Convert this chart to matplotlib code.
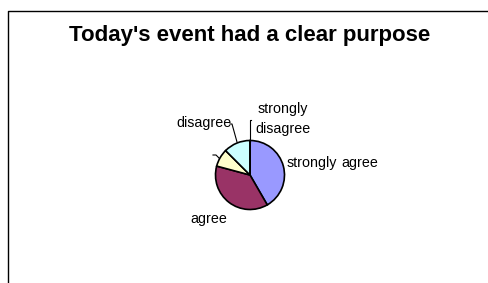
import matplotlib.pyplot as plt

# survey answers (counts)
categories = ["strongly agree", "agree", "", "disagree", "strongly\ndisagree"]
counts = [10, 9, 2, 3, 0]
colors = ["#9999FF", "#993366", "#FFFFCC", "#CCFFFF", "#660066"]

W, H = 488, 283
plt.rcParams["font.family"] = ["Liberation Sans", "DejaVu Sans"]

fig = plt.figure(figsize=(W / 100, H / 100), dpi=100)
ax = fig.add_axes([0, 0, 1, 1])
ax.set_xlim(0, W)
ax.set_ylim(0, H)
ax.set_aspect("equal")
ax.axis("off")

# chart area frame (only the left and top sides are visible)
ax.plot([8, 8, W + 5], [-5, H - 11, H - 11], color="black", lw=1.0)

ax.text(250, H - 35, "Today's event had a clear purpose", ha="center", va="center",
        fontsize=16, fontweight="bold")

cx, cy, r = 250, H - 175, 34.5
ax.pie(counts, colors=colors, startangle=90, counterclock=False,
       center=(cx, cy), radius=r, frame=True,
       wedgeprops=dict(edgecolor="black", linewidth=1.2))
ax.set_xlim(0, W)
ax.set_ylim(0, H)
ax.axis("off")

fs = 10.3
ax.text(287, H - 163, "strongly", ha="left", va="center", fontsize=fs)
ax.text(378, H - 163, "agree", ha="right", va="center", fontsize=fs)
ax.text(209, H - 219, categories[1], ha="center", va="center", fontsize=fs)
ax.text(204, H - 123, categories[3], ha="center", va="center", fontsize=fs)
ax.text(283, H - 119, categories[4], ha="center", va="center", fontsize=fs,
        linespacing=1.5)

# leader lines
ax.plot([230, 232, 237], [H - 124, H - 124, H - 142], color="black", lw=0.8)
ax.plot([251, 250, 250], [H - 120, H - 120, H - 142], color="black", lw=0.8)
ax.plot([213, 216, 219], [H - 155, H - 155, H - 158], color="black", lw=0.8)

fig.savefig("out.png", dpi=100)
